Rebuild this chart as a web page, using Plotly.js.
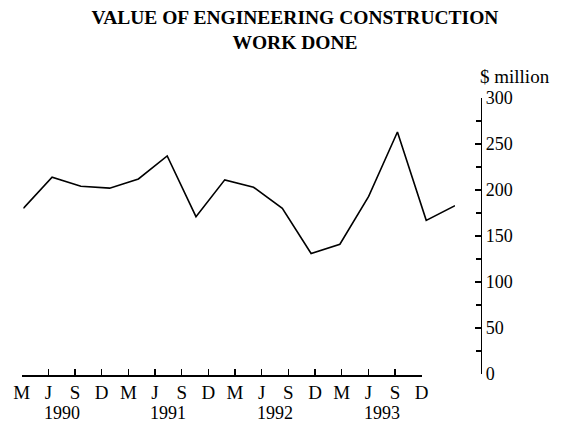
<!DOCTYPE html>
<html>
<head>
<meta charset="utf-8">
<script src="https://cdn.plot.ly/plotly-3.0.1.min.js"></script>
<style>html,body{margin:0;padding:0;background:#fff;}#chart{width:563px;height:434px;}</style>
</head>
<body>
<div id="chart"></div>
<script>
// Data (quarterly, March 1990 - December 1993), $ million
const quarterLabels = ["M","J","S","D","M","J","S","D","M","J","S","D","M","J","S","D"];
const years = ["1990","1991","1992","1993"];
const values = [180, 214, 204, 202, 212, 237, 171, 211, 203, 180, 131, 141, 193, 263, 167, 183];
const yTicks = [0, 50, 100, 150, 200, 250, 300];

const idx = quarterLabels.map((_, i) => i);
const W = 563, H = 434;
const px = v => v / W;
const py = v => (H - v) / H;

const serif = "Liberation Serif, Times New Roman, serif";

const traces = [
  { // invisible companion trace so the tick axis subplot exists
    x: idx, y: values, xaxis: 'x2', yaxis: 'y',
    type: 'scatter', mode: 'lines',
    line: {color: 'rgba(0,0,0,0)', width: 0},
    hoverinfo: 'skip', showlegend: false
  },
  { // the line series
    x: idx, y: values, xaxis: 'x', yaxis: 'y',
    type: 'scatter', mode: 'lines',
    line: {color: '#000', width: 1.6},
    hoverinfo: 'skip', showlegend: false
  }
];

const yearAnnotations = years.map((yr, i) => ({
  text: yr, xref: 'x2', yref: 'paper',
  x: i * 4 + 1.5, y: py(413), xanchor: 'center', yanchor: 'middle',
  showarrow: false, font: {family: serif, size: 18, color: '#000'}
}));

const layout = {
  width: W, height: H,
  margin: {l: 0, r: 0, t: 0, b: 0},
  paper_bgcolor: '#fff', plot_bgcolor: 'rgba(0,0,0,0)',
  showlegend: false,
  title: {
    text: "<b>VALUE OF ENGINEERING CONSTRUCTION<br>WORK DONE</b>",
    font: {family: serif, size: 19.5, color: '#000'},
    x: px(295), xanchor: 'center', xref: 'paper',
    y: 1 - 24 / H, yanchor: 'top', yref: 'container'
  },
  xaxis: { // data axis (invisible)
    domain: [px(23.3), px(455)], range: [0, 15], anchor: 'y',
    visible: false, fixedrange: true
  },
  xaxis2: { // tick / label axis
    domain: [px(21.7), px(421.7)], range: [0, 15], anchor: 'free', position: py(375),
    tickmode: 'array', tickvals: idx, ticktext: quarterLabels,
    ticks: 'inside', ticklen: 6, tickwidth: 1.4, tickcolor: '#000',
    showline: true, linecolor: '#000', linewidth: 1.6,
    showgrid: false, zeroline: false,
    tickfont: {family: serif, size: 19, color: '#000'},
    ticklabelstandoff: 0, fixedrange: true
  },
  yaxis: {
    domain: [py(374), py(98)], range: [0, 300],
    anchor: 'free', position: px(480.5), side: 'right',
    tickmode: 'array', tickvals: yTicks, ticktext: yTicks.map(String),
    ticks: 'inside', ticklen: 6, tickwidth: 1.4, tickcolor: '#000',
    minor: {dtick: 25, ticks: 'inside', ticklen: 5, tickwidth: 1.2, tickcolor: '#000', showgrid: false},
    showline: true, linecolor: '#000', linewidth: 1.6,
    showgrid: false, zeroline: false,
    tickfont: {family: serif, size: 18, color: '#000'},
    ticklabelstandoff: 0, fixedrange: true
  },
  annotations: [
    {
      text: "$ million", xref: 'paper', yref: 'paper',
      x: px(515), y: py(77), xanchor: 'center', yanchor: 'middle',
      showarrow: false, font: {family: serif, size: 19, color: '#000'}
    },
    ...yearAnnotations
  ]
};

Plotly.newPlot('chart', traces, layout, {displayModeBar: false, staticPlot: true});
</script>
</body>
</html>
